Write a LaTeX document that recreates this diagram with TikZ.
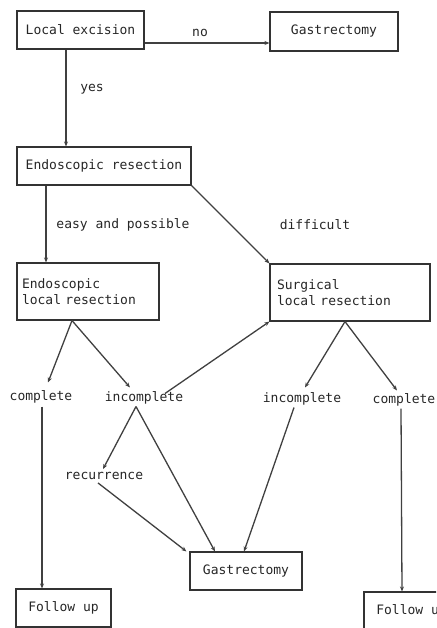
\documentclass[tikz,border=0pt]{standalone}
\usepackage{fontspec}
\setmonofont{DejaVu Sans Mono}
\usetikzlibrary{arrows.meta,calc}
\begin{document}
\begin{tikzpicture}[x=1pt,y=-1pt,
  every node/.style={font=\ttfamily\fontsize{13}{16}\selectfont, text=black!85, inner sep=0pt},
  box/.style={draw=black!80, line width=1.1pt, rectangle},
  lbl/.style={},
  arr/.style={draw=black!75, line width=1.3pt, -{Stealth[length=5pt,width=4pt]}}]
\useasboundingbox (0,0) rectangle (436,628);
\clip (0,0) rectangle (436,628);
% boxes
\node[box, minimum width=127pt, minimum height=38pt] (le) at (80.5,30) {Local excision};
\node[box, minimum width=128pt, minimum height=39pt] (g1) at (334,31.5) {Gastrectomy};
\node[box, minimum width=174pt, minimum height=38pt] (er) at (104,166) {Endoscopic resection};
\node[box, minimum width=142pt, minimum height=57pt, align=left, text width=132pt, inner xsep=5pt] (elr) at (88,291.5) {Endoscopic\\local resection};
\node[box, minimum width=160pt, minimum height=57pt, align=left, text width=146pt, inner xsep=7pt] (slr) at (350,292.5) {Surgical\\local resection};
\node[box, minimum width=112pt, minimum height=38pt] (g2) at (246,571) {Gastrectomy};
\node[box, minimum width=95pt, minimum height=38pt] (f1) at (63.5,608) {Follow up};
\node[box, minimum width=95pt, minimum height=38pt] (f2) at (411.5,611) {Follow up};
% plain texts
\node[lbl] (c1) at (41,397) {complete};
\node[lbl] (i1) at (144,398) {incomplete};
\node[lbl] (i2) at (302,399) {incomplete};
\node[lbl] (c2) at (404,400) {complete};
\node[lbl] (rec) at (104,476) {recurrence};
\node[lbl] (lno) at (200,33) {no};
\node[lbl] (lyes) at (92,89) {yes};
\node[lbl] (lep) at (123,225) {easy and possible};
\node[lbl] (ldf) at (315,225) {difficult};
% connectors
\draw[arr] ([yshift=-13pt]le.east) -- ([yshift=-11.5pt]g1.west);
\draw[arr] ([xshift=-14.5pt]le.south) -- ([xshift=-38pt]er.north);
\draw[arr] ([xshift=-58pt]er.south) -- ([xshift=-42pt]elr.north);
\draw[arr] (er.south east) -- (slr.north west);
\draw[arr] ([xshift=-16pt]elr.south) -- ([xshift=7pt,yshift=8pt]c1.north);
\draw[arr] ([xshift=-16pt]elr.south) -- ([xshift=-14pt,yshift=4pt]i1.north);
\draw[arr] ([xshift=21pt,yshift=-2pt]i1.north) -- (slr.south west);
\draw[arr] ([xshift=-5pt]slr.south) -- ([xshift=3pt,yshift=5pt]i2.north);
\draw[arr] ([xshift=-5pt]slr.south) -- ([xshift=-7pt,yshift=3pt]c2.north);
\draw[arr] ([xshift=1pt,yshift=-3pt]c1.south) -- ([xshift=-21.5pt]f1.north);
\draw[arr] ([xshift=-8pt,yshift=-2pt]i1.south) -- ([xshift=-1pt,yshift=3pt]rec.north);
\draw[arr] ([xshift=-8pt,yshift=-2pt]i1.south) -- ([xshift=-31pt]g2.north);
\draw[arr] ([xshift=-6pt,yshift=-3pt]rec.south) -- ([xshift=-3pt]g2.north west);
\draw[arr] ([xshift=-8pt,yshift=-2pt]i2.south) -- ([xshift=-2pt]g2.north);
\draw[arr] ([xshift=-3pt,yshift=-2pt]c2.south) -- ([xshift=-9.5pt]f2.north);
\end{tikzpicture}
\end{document}
